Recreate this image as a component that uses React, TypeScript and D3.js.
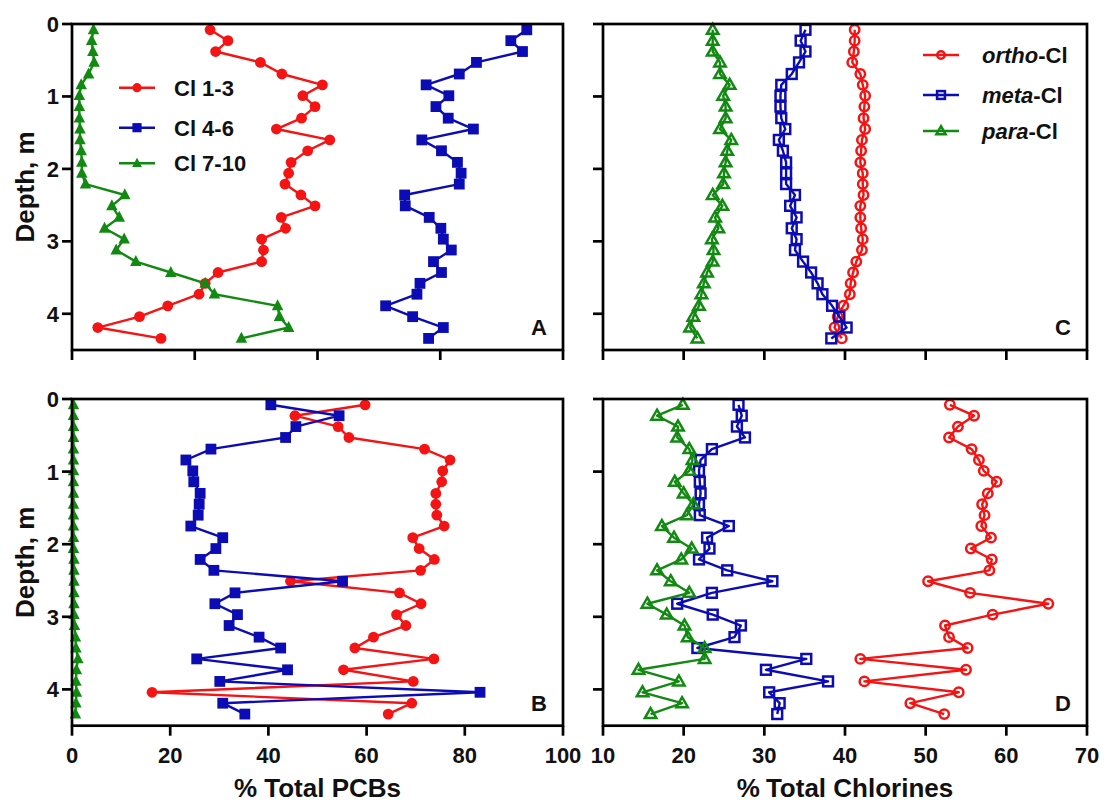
import React from "react";
import * as d3 from "d3";

// Depths (m) of the core sections
const depths = [0.08, 0.23, 0.38, 0.53, 0.69, 0.84, 0.99, 1.14, 1.3, 1.45, 1.6, 1.75, 1.91, 2.06, 2.21, 2.36, 2.51, 2.67, 2.82, 2.97, 3.12, 3.28, 3.43, 3.58, 3.73, 3.89, 4.04, 4.19, 4.34];

// Panel A (% total PCBs)
const aCl13 = [22.5, 25.4, 23.4, 30.7, 34.2, 40.8, 37.6, 39.6, 37.4, 33.3, 42.0, 38.4, 35.7, 35.3, 34.7, 37.3, 39.6, 34.1, 34.8, 30.9, 31.2, 30.9, 23.8, 21.7, 20.7, 15.6, 11.0, 4.2, 14.5];
const aCl46 = [74.1, 71.5, 73.4, 65.9, 63.1, 57.7, 61.4, 59.3, 61.3, 65.4, 57.0, 60.2, 62.8, 63.4, 63.1, 54.2, 54.3, 58.2, 60.1, 60.5, 61.8, 58.9, 60.2, 56.7, 56.2, 51.1, 55.5, 60.5, 58.1];
const aCl710 = [3.5, 3.2, 3.4, 3.6, 2.7, 1.5, 1.2, 1.2, 1.2, 1.3, 1.3, 1.5, 1.6, 1.6, 2.2, 8.6, 6.5, 7.7, 5.3, 8.5, 7.2, 10.4, 16.1, 21.7, 23.2, 33.5, 33.8, 35.3, 27.6];

// Panel B (% total PCBs)
const bCl13 = [59.7, 45.4, 54.2, 56.4, 71.8, 77.0, 75.5, 75.3, 74.1, 74.1, 74.3, 75.8, 69.4, 70.7, 73.8, 71.0, 44.5, 66.7, 71.1, 66.1, 68.0, 61.4, 57.6, 73.7, 55.3, 69.5, 16.3, 69.2, 64.4];
const bCl46 = [40.5, 54.4, 45.6, 43.5, 28.3, 23.2, 24.6, 24.8, 26.1, 25.9, 25.7, 24.2, 30.7, 29.3, 26.1, 28.9, 55.1, 33.2, 29.1, 33.7, 32.0, 38.1, 42.5, 25.4, 43.9, 30.1, 83.1, 30.7, 35.2];
const bCl710 = [0.3, 0.3, 0.3, 0.3, 0.3, 0.3, 0.3, 0.3, 0.3, 0.3, 0.3, 0.3, 0.3, 0.3, 0.4, 0.4, 0.4, 0.4, 0.4, 0.4, 0.5, 0.7, 0.8, 1.2, 0.9, 0.8, 0.9, 0.8, 0.7];

// Panel C (% total chlorines)
const cOrtho = [41.2, 41.2, 41.1, 40.9, 41.9, 42.2, 42.5, 42.4, 42.3, 42.5, 42.1, 42.0, 41.9, 42.2, 42.2, 42.3, 41.9, 41.9, 42.0, 42.2, 42.1, 41.4, 41.0, 40.7, 40.6, 39.8, 39.1, 38.7, 39.6];
const cMeta = [35.1, 34.5, 35.1, 34.3, 33.4, 32.1, 32.0, 32.0, 32.1, 32.6, 31.8, 32.3, 32.7, 32.7, 32.7, 33.8, 33.2, 34.0, 33.4, 34.0, 33.8, 34.8, 35.8, 36.6, 37.2, 38.4, 39.3, 40.2, 38.3];
const cPara = [23.6, 23.6, 23.6, 24.5, 24.5, 25.7, 24.9, 25.2, 25.2, 24.5, 25.9, 25.4, 25.2, 25.0, 24.9, 23.6, 24.8, 23.9, 24.3, 23.5, 23.7, 23.6, 22.9, 22.5, 22.2, 21.9, 21.2, 20.8, 21.7];

// Panel D (% total chlorines)
const dOrtho = [53.0, 56.0, 54.0, 52.9, 55.7, 56.6, 57.2, 58.8, 57.7, 57.0, 57.3, 56.9, 58.1, 55.6, 58.2, 57.9, 50.3, 55.5, 65.2, 58.3, 52.4, 52.9, 55.2, 41.9, 55.0, 42.4, 54.1, 48.1, 52.3];
const dMeta = [26.8, 27.2, 26.6, 27.6, 23.5, 22.1, 21.9, 22.0, 22.1, 21.9, 22.0, 25.6, 22.9, 23.2, 21.9, 25.4, 31.0, 23.5, 19.2, 23.6, 27.1, 26.3, 21.7, 35.2, 30.2, 37.9, 30.6, 31.9, 31.6];
const dPara = [19.9, 16.7, 19.3, 19.2, 20.7, 21.1, 20.7, 18.9, 20.0, 21.2, 20.4, 17.3, 18.8, 21.0, 19.7, 16.7, 18.4, 20.7, 15.5, 17.9, 20.1, 20.5, 22.6, 22.6, 14.4, 19.4, 14.9, 19.8, 15.9];

const depthTicks = [0, 1, 2, 3, 4];
const pcbTicksA = [0, 20, 40, 60, 80];
const pcbTicksB = [0, 20, 40, 60, 80, 100];
const clTicks = [10, 20, 30, 40, 50, 60, 70];

const legendAB = ["Cl 1-3", "Cl 4-6", "Cl 7-10"];
const legendCD = [["ortho", "-Cl"], ["meta", "-Cl"], ["para", "-Cl"]];

const RED = "#f41414";
const BLUE = "#0c0cb4";
const GREEN = "#128a12";
const FONT = "'Liberation Sans', Arial, Helvetica, sans-serif";

type Shape = "circle" | "square" | "triangle";

function Marker({ x, y, shape, color, open, size = 1 }: { x: number; y: number; shape: Shape; color: string; open: boolean; size?: number }) {
  const fill = open ? "none" : color;
  const sw = open ? 2.5 : 0;
  if (shape === "circle") {
    const r = (open ? 4.7 : 5.4) * size;
    return <circle cx={x} cy={y} r={r} fill={fill} stroke={color} strokeWidth={sw} />;
  }
  if (shape === "square") {
    const s = (open ? 9.8 : 10.8) * size;
    return <rect x={x - s / 2} y={y - s / 2} width={s} height={s} fill={fill} stroke={color} strokeWidth={sw} />;
  }
  const h = (open ? 10 : 11) * size;
  const w = (open ? 11.5 : 11.5) * size;
  const p = `M${x},${y - h * 0.6} L${x + w / 2},${y + h * 0.4} L${x - w / 2},${y + h * 0.4} Z`;
  return <path d={p} fill={fill} stroke={color} strokeWidth={sw} strokeLinejoin="miter" />;
}

type SeriesDef = { values: number[]; color: string; shape: Shape };

function Panel({ x0, x1, y0, y1, domain, ticks, showXLabels, showYLabels, series, open, label }: {
  x0: number; x1: number; y0: number; y1: number; domain: [number, number]; ticks: number[];
  showXLabels: boolean; showYLabels: boolean; series: SeriesDef[]; open: boolean; label: string;
}) {
  const xs = d3.scaleLinear().domain(domain).range([x0, x1]);
  const ys = d3.scaleLinear().domain([0, 4.5]).range([y0, y1]);
  const line = d3.line<[number, number]>().x((d) => xs(d[0])).y((d) => ys(d[1]));
  return (
    <g>
      {series.map((s, i) => {
        const pts: [number, number][] = s.values.map((v, j) => [v, depths[j]]);
        return (
          <g key={i}>
            <path d={line(pts) || ""} fill="none" stroke={s.color} strokeWidth={2.4} strokeLinejoin="round" />
            {pts.map((p, j) => (
              <Marker key={j} x={xs(p[0])} y={ys(p[1])} shape={s.shape} color={s.color} open={open} />
            ))}
          </g>
        );
      })}
      <rect x={x0} y={y0} width={x1 - x0} height={y1 - y0} fill="none" stroke="#000" strokeWidth={2.7} />
      {ticks.map((t) => (
        <g key={"x" + t}>
          <line x1={xs(t)} x2={xs(t)} y1={y1} y2={y1 + 10} stroke="#000" strokeWidth={2.7} />
          {showXLabels && (
            <text x={xs(t)} y={y1 + 37} textAnchor="middle" fontFamily={FONT} fontWeight="bold" fontSize={22} fill="#111">{t}</text>
          )}
        </g>
      ))}
      {depthTicks.map((t) => (
        <g key={"y" + t}>
          <line x1={x0 - 10} x2={x0} y1={ys(t)} y2={ys(t)} stroke="#000" strokeWidth={2.7} />
          {showYLabels && (
            <text x={x0 - 13} y={ys(t)} dy="0.36em" textAnchor="end" fontFamily={FONT} fontWeight="bold" fontSize={22} fill="#111">{t}</text>
          )}
        </g>
      ))}
      <text x={x1 - 16} y={y1 - 15} textAnchor="end" fontFamily={FONT} fontWeight="bold" fontSize={22} fill="#111">{label}</text>
    </g>
  );
}

export default function App() {
  const topY0 = 24, topY1 = 350, botY0 = 399, botY1 = 725.7;
  const lx0 = 72, lx1 = 563, rx0 = 603, rx1 = 1087;
  const colorsAB: SeriesDef[][] = [
    [{ values: aCl13, color: RED, shape: "circle" }, { values: aCl46, color: BLUE, shape: "square" }, { values: aCl710, color: GREEN, shape: "triangle" }],
    [{ values: bCl13, color: RED, shape: "circle" }, { values: bCl46, color: BLUE, shape: "square" }, { values: bCl710, color: GREEN, shape: "triangle" }],
  ];
  const seriesCD: SeriesDef[][] = [
    [{ values: cOrtho, color: RED, shape: "circle" }, { values: cMeta, color: BLUE, shape: "square" }, { values: cPara, color: GREEN, shape: "triangle" }],
    [{ values: dOrtho, color: RED, shape: "circle" }, { values: dMeta, color: BLUE, shape: "square" }, { values: dPara, color: GREEN, shape: "triangle" }],
  ];
  const legColors = [RED, BLUE, GREEN];
  const legShapes: Shape[] = ["circle", "square", "triangle"];
  const legAY = [87.7, 127.7, 163.3];
  const legCY = [55, 95, 131];
  return (
    <svg width={1108} height={803} style={{ position: "absolute", left: 0, top: 0, background: "#fff" }}>
      <rect x={0} y={0} width={1108} height={803} fill="#fff" />
      <Panel x0={lx0} x1={lx1} y0={topY0} y1={topY1} domain={[0, 80]} ticks={pcbTicksA} showXLabels={false} showYLabels={true} series={colorsAB[0]} open={false} label="A" />
      <Panel x0={lx0} x1={lx1} y0={botY0} y1={botY1} domain={[0, 100]} ticks={pcbTicksB} showXLabels={true} showYLabels={true} series={colorsAB[1]} open={false} label="B" />
      <Panel x0={rx0} x1={rx1} y0={topY0} y1={topY1} domain={[10, 70]} ticks={clTicks} showXLabels={false} showYLabels={false} series={seriesCD[0]} open={true} label="C" />
      <Panel x0={rx0} x1={rx1} y0={botY0} y1={botY1} domain={[10, 70]} ticks={clTicks} showXLabels={true} showYLabels={false} series={seriesCD[1]} open={true} label="D" />

      {legendAB.map((t, i) => (
        <g key={t}>
          <line x1={119} x2={155} y1={legAY[i]} y2={legAY[i]} stroke={legColors[i]} strokeWidth={2.5} />
          <Marker x={137} y={legAY[i]} shape={legShapes[i]} color={legColors[i]} open={false} size={0.85} />
          <text x={174} y={legAY[i]} dy="0.36em" fontFamily={FONT} fontWeight="bold" fontSize={22} fill="#111">{t}</text>
        </g>
      ))}
      {legendCD.map((t, i) => (
        <g key={t[0]}>
          <line x1={923} x2={959} y1={legCY[i]} y2={legCY[i]} stroke={legColors[i]} strokeWidth={2.5} />
          <Marker x={941} y={legCY[i]} shape={legShapes[i]} color={legColors[i]} open={true} size={0.8} />
          <text x={982} y={legCY[i]} dy="0.36em" fontFamily={FONT} fontWeight="bold" fontSize={22} fill="#111">
            <tspan fontStyle="italic">{t[0]}</tspan>
            <tspan>{t[1]}</tspan>
          </text>
        </g>
      ))}

      <text transform={`translate(34,${(topY0 + topY1) / 2}) rotate(-90)`} textAnchor="middle" fontFamily={FONT} fontWeight="bold" fontSize={26} fill="#111">Depth, m</text>
      <text transform={`translate(34,${(botY0 + botY1) / 2}) rotate(-90)`} textAnchor="middle" fontFamily={FONT} fontWeight="bold" fontSize={26} fill="#111">Depth, m</text>
      <text x={(lx0 + lx1) / 2} y={797} textAnchor="middle" fontFamily={FONT} fontWeight="bold" fontSize={26} fill="#111">% Total PCBs</text>
      <text x={(rx0 + rx1) / 2} y={797} textAnchor="middle" fontFamily={FONT} fontWeight="bold" fontSize={26} fill="#111">
        <tspan>%</tspan>
        <tspan dx={6}>Total Chlorines</tspan>
      </text>
    </svg>
  );
}
